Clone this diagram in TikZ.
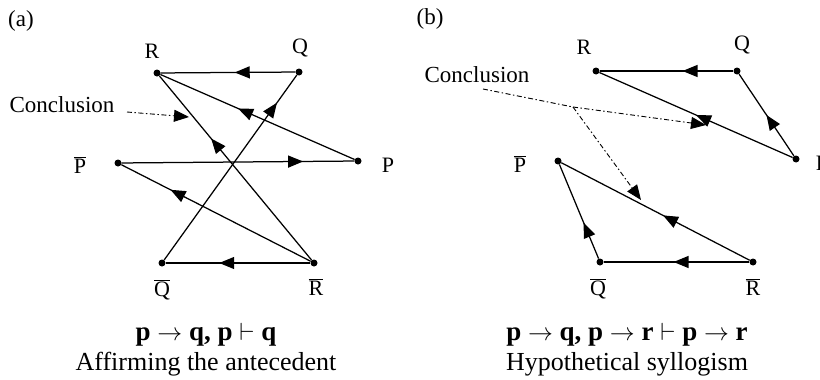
\documentclass[tikz,border=0pt]{standalone}
\usepackage{fontspec}
\setmainfont{Liberation Serif}
\usetikzlibrary{arrows.meta,decorations.markings}
\tikzset{
  dot/.style={circle,fill=black,inner sep=0pt,minimum size=7pt},
  lbl/.style={font=\fontsize{22}{24}\selectfont,inner sep=0pt},
  edge/.style={line width=1.25pt,postaction={decorate},
    decoration={markings,mark=at position #1 with {\arrow{Triangle[length=15pt,width=12pt]}}}},
  concl/.style={line width=0.9pt,dash pattern=on 5pt off 2.5pt on 1.5pt off 2.5pt},
  ctip/.style={-{Triangle[length=15pt,width=12pt]}},
  captxt/.style={font=\fontsize{26}{30}\selectfont,inner sep=0pt,anchor=base},
  frm/.style={font=\fontsize{27}{30}\selectfont\bfseries,inner sep=0pt,anchor=base},
  conc/.style={font=\fontsize{23}{25}\selectfont,inner sep=0pt},
}
\begin{document}
\begin{tikzpicture}[x=1pt,y=-1pt]
\useasboundingbox (0,0) rectangle (820,380);
% ---------- (a) ----------
\node[font=\fontsize{23}{25}\selectfont,inner sep=0pt] (ta) at (21,21) {(a)};
\node[dot] (R) at (157,73) {};
\node[dot] (Q) at (299,72) {};
\node[dot] (P) at (358,161) {};
\node[dot] (Pb) at (118,163) {};
\node[dot] (Qb) at (162,263) {};
\node[dot] (Rb) at (314,263) {};
\node[lbl] (lR) at (152,51) {R};
\node[lbl] (lQ) at (300,48) {Q};
\node[lbl] (lP) at (388,165) {P};
\node[lbl] (lPb) at (80,165) {$\overline{\mbox{P}}$};
\node[lbl] (lQb) at (162,290) {$\overline{\mbox{Q}}$};
\node[lbl] (lRb) at (316,287) {$\overline{\mbox{R}}$};
\draw[edge=0.45] (Q) -- (R);
\draw[edge=0.60] (P) -- (R);
\draw[edge=0.66] (Rb) -- (R);
\draw[edge=0.85] (Qb) -- (Q);
\draw[edge=0.78] (Pb) -- (P);
\draw[edge=0.74] (Rb) -- (Pb);
\draw[edge=0.63] (Rb) -- (Qb);
\node[conc] (ca) at (62,105) {Conclusion};
\coordinate (cas) at (127,112);
\coordinate (cat) at (189,117);
\draw[concl,ctip] (cas) -- (cat);
\node[frm] (fa) at (206,340) {p $\rightarrow$ q, p $\vdash$ q};
\node[captxt] (ka) at (206,370) {Affirming the antecedent};
% ---------- (b) ----------
\node[font=\fontsize{23}{25}\selectfont,inner sep=0pt] (tb) at (430,19) {(b)};
\node[dot] (R2) at (596,71) {};
\node[dot] (Q2) at (737,71) {};
\node[dot] (P2) at (796,159) {};
\node[dot] (Pb2) at (558,161) {};
\node[dot] (Qb2) at (600,262) {};
\node[dot] (Rb2) at (753,262) {};
\node[lbl] (lR2) at (584,47) {R};
\node[lbl] (lQ2) at (742,45) {Q};
\node[lbl] (lP2) at (822,163) {P};
\node[lbl] (lPb2) at (520,164) {$\overline{\mbox{P}}$};
\node[lbl] (lQb2) at (598,289) {$\overline{\mbox{Q}}$};
\node[lbl] (lRb2) at (753,287) {$\overline{\mbox{R}}$};
\draw[edge=0.38] (Q2) -- (R2);
\draw[edge=0.50] (P2) -- (Q2);
\draw[edge=0.50] (P2) -- (R2);
\draw[edge=0.46] (Rb2) -- (Pb2);
\draw[edge=0.38] (Qb2) -- (Pb2);
\draw[edge=0.52] (Rb2) -- (Qb2);
\node[conc] (cb) at (477,75) {Conclusion};
\coordinate (cbs) at (483,89);
\coordinate (cbm) at (573,107);
\coordinate (cbt1) at (706,125);
\coordinate (cbt2) at (641,200);
\draw[concl] (cbs) -- (cbm);
\draw[concl,ctip] (cbm) -- (cbt1);
\draw[concl,ctip] (cbm) -- (cbt2);
\node[frm] (fb) at (627,340) {p $\rightarrow$ q, p $\rightarrow$ r $\vdash$ p $\rightarrow$ r};
\node[captxt] (kb) at (627,370) {Hypothetical syllogism};
\end{tikzpicture}
\end{document}
